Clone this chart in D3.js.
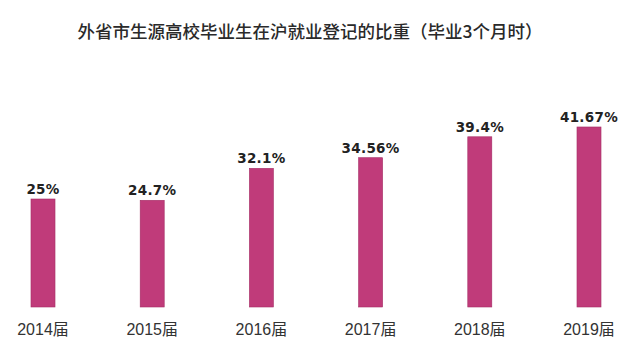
<!DOCTYPE html>
<html>
<head>
<meta charset="utf-8">
<script src="https://cdn.jsdelivr.net/npm/d3@7/dist/d3.min.js"></script>
<style>
  html, body { margin: 0; padding: 0; background: #fff; }
  svg { display: block; }
</style>
</head>
<body>
<svg id="chart" width="640" height="346"></svg>
<script>
// Share of out-of-town graduates registered as employed in Shanghai (3 months after graduation)
const categories = ["2014届", "2015届", "2016届", "2017届", "2018届", "2019届"];
const values = [25, 24.7, 32.1, 34.56, 39.4, 41.67];
const valueLabels = ["25%", "24.7%", "32.1%", "34.56%", "39.4%", "41.67%"];
const title = "外省市生源高校毕业生在沪就业登记的比重（毕业3个月时）";

const width = 640, height = 346;
const margin = { left: -11.6, right: -3.6, top: 0, bottom: 39 };
const svg = d3.select("#chart");

const x = d3.scaleBand()
  .domain(categories)
  .range([margin.left, width - margin.right])
  .paddingInner(0.78)
  .paddingOuter(0.39);

const y = d3.scaleLinear()
  .domain([0, 25])
  .range([height - margin.bottom, height - margin.bottom - 108]);

svg.append("text")
  .attr("x", 310)
  .attr("y", 38)
  .attr("text-anchor", "middle")
  .attr("font-family", "'Noto Sans CJK SC', sans-serif")
  .attr("font-weight", 500)
  .attr("font-size", 17.5)
  .attr("fill", "#2a2a2a")
  .text(title);

svg.append("g").selectAll("rect")
  .data(values)
  .join("rect")
  .attr("x", (d, i) => x(categories[i]))
  .attr("width", x.bandwidth())
  .attr("y", d => y(d))
  .attr("height", d => y(0) - y(d))
  .attr("fill", "#c03b7a")
  .attr("stroke", "#a52d66")
  .attr("stroke-width", 0.6);

svg.append("g").selectAll("text")
  .data(values)
  .join("text")
  .attr("x", (d, i) => x(categories[i]) + x.bandwidth() / 2)
  .attr("y", d => y(d) - 5)
  .attr("text-anchor", "middle")
  .attr("font-family", "'DejaVu Sans', sans-serif")
  .attr("font-weight", "bold")
  .attr("font-size", 13.5)
  .attr("letter-spacing", 0.3)
  .attr("fill", "#222")
  .text((d, i) => valueLabels[i]);

const xAxis = d3.axisBottom(x).tickSize(0).tickPadding(0);
const gx = svg.append("g")
  .attr("transform", `translate(0,${height - margin.bottom})`)
  .call(xAxis);
gx.select(".domain").remove();
gx.selectAll("text")
  .attr("y", 28)
  .attr("dy", 0)
  .attr("font-family", "'Liberation Sans', 'Noto Sans CJK SC', sans-serif")
  .attr("font-size", 16)
  .attr("fill", "#333");
</script>
</body>
</html>
